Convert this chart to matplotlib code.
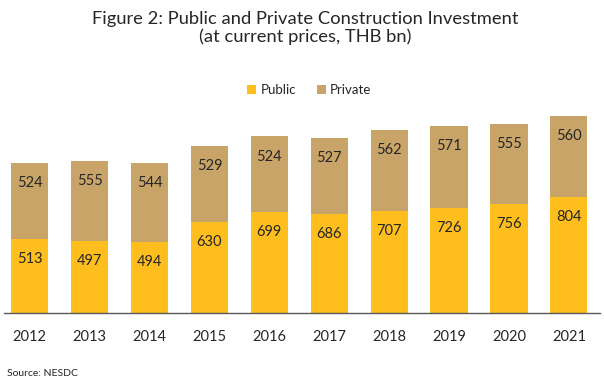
import matplotlib.pyplot as plt
import numpy as np

years = ['2012', '2013', '2014', '2015', '2016', '2017', '2018', '2019', '2020', '2021']
public = [513, 497, 494, 630, 699, 686, 707, 726, 756, 804]
private = [524, 555, 544, 529, 524, 527, 562, 571, 555, 560]

public_color = '#FDBE1E'
private_color = '#C9A468'
text_color = '#262626'

plt.rcParams['font.family'] = ['Lato', 'DejaVu Sans']

fig = plt.figure(figsize=(6.04, 3.89), dpi=100)
W, H = 604, 389
ax = fig.add_axes([4 / W, 1 - 313 / H, 596 / W, (313 - 100) / H])

x = np.arange(len(years))
ax.bar(x, public, width=0.62, color=public_color, label='Public')
ax.bar(x, private, width=0.62, bottom=public, color=private_color, label='Private')

# value labels, placed a bit below the top of each segment
for i in range(len(years)):
    ax.annotate(str(public[i]), (x[i], public[i]), xytext=(0, -14.5), textcoords='offset points',
                ha='center', va='center', fontsize=10.5, color=text_color)
    ax.annotate(str(private[i]), (x[i], public[i] + private[i]), xytext=(0, -14.5), textcoords='offset points',
                ha='center', va='center', fontsize=10.5, color=text_color)

ax.set_xlim(-0.43, 9.52)
ax.set_ylim(0, (313 - 100) / 0.1444)
ax.set_xticks(x)
ax.set_xticklabels(years, fontsize=10.5, color=text_color)
ax.tick_params(axis='x', length=0, pad=12)
ax.set_yticks([])
for s in ['top', 'right', 'left']:
    ax.spines[s].set_visible(False)
ax.spines['bottom'].set_color('#595959')
ax.spines['bottom'].set_linewidth(1)

fig.text(0.505, 1 - 28 / H, 'Figure 2: Public and Private Construction Investment\n(at current prices, THB bn)',
         ha='center', va='center', fontsize=13.2, color=text_color, linespacing=1.15)

fig.legend(loc='center', bbox_to_anchor=(0.512, 1 - 90 / H), ncol=2, frameon=False,
           fontsize=9.5, handlelength=0.7, handleheight=0.7, handletextpad=0.3, columnspacing=1.6,
           labelcolor=text_color)

fig.text(7 / W, 1 - 374 / H, 'Source: NESDC', fontsize=7.5, color=text_color, va='center')

fig.savefig('out.png', dpi=100)
